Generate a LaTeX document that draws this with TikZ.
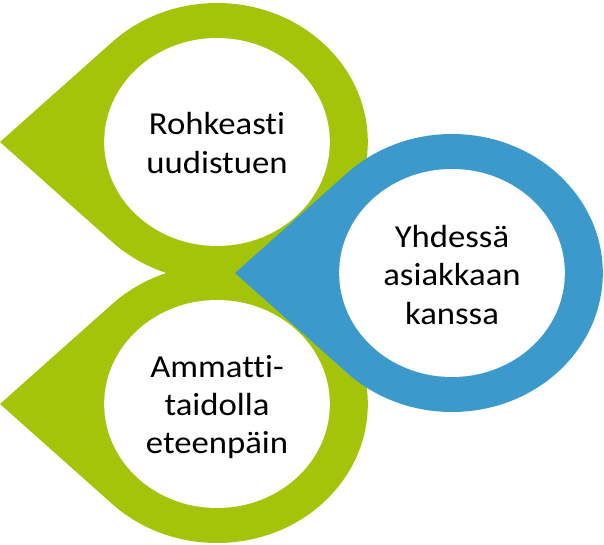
\documentclass[tikz,border=0pt]{standalone}
\usepackage{fontspec}
\setmainfont{Carlito}[FakeStretch=1.085,Ligatures=NoCommon,RawFeature=-liga]
\definecolor{leafgreen}{HTML}{A4C40A}
\definecolor{dropblue}{HTML}{3C99CC}
\newcommand{\dropat}[2]{%
  \begin{scope}[shift={#1},xscale=1.085]
    \fill[#2] (-200,0) -- (134:139) arc[start angle=134,end angle=-134,radius=139] -- cycle;
    \fill[white] (0,0) circle[radius=104];
  \end{scope}}
\tikzset{droptext/.style={align=center,font=\fontsize{24}{28.8}\selectfont,text=black,inner sep=0pt}}
\begin{document}
\begin{tikzpicture}[x=0.75pt,y=-0.75pt]
\useasboundingbox (0,0) rectangle (604,545);
\dropat{(217,142)}{leafgreen}
\dropat{(217,404)}{leafgreen}
\dropat{(452,273)}{dropblue}
\node[droptext] (rohkeasti) at (217,143) {Rohkeasti\\uudistuen};
\node[droptext] (ammatti) at (217,407) {Ammatti-\\taidolla\\eteenpäin};
\node[droptext] (yhdessa) at (452,275) {Yhdessä\\asiakkaan\\kanssa};
\end{tikzpicture}
\end{document}
